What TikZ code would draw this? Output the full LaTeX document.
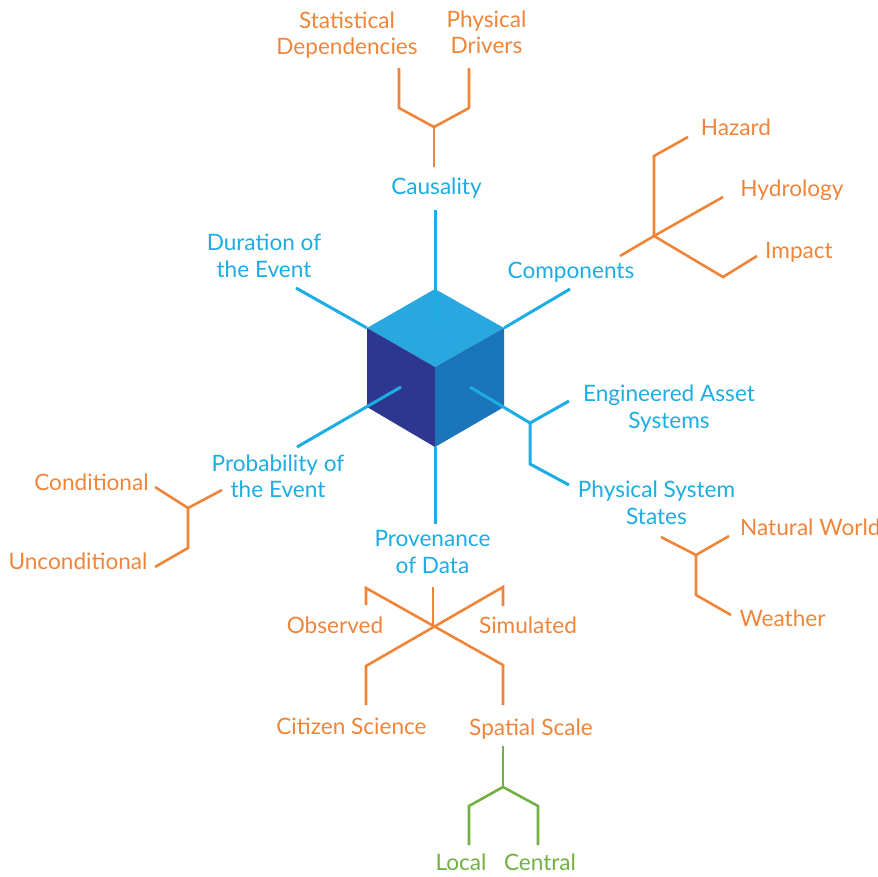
\documentclass[tikz,border=0pt]{standalone}
\usepackage{fontspec}
\setmainfont{Lato}
\usetikzlibrary{positioning}

\definecolor{cyanline}{RGB}{27,173,228}
\definecolor{orangeline}{RGB}{240,133,58}
\definecolor{greenline}{RGB}{114,176,67}
\definecolor{cubetopc}{RGB}{41,168,224}
\definecolor{cubeleftc}{RGB}{46,55,144}
\definecolor{cuberightc}{RGB}{27,117,187}

\begin{document}
\begin{tikzpicture}[x=1pt,y=-1pt,
    tag/.style={inner sep=0pt,align=center,font=\fontsize{22.6}{26.5}\selectfont},
    bluetag/.style={tag,text=cyanline},
    orangetag/.style={tag,text=orangeline},
    greentag/.style={tag,text=greenline},
    bluebar/.style={draw=cyanline,line width=3pt},
    orangebar/.style={draw=orangeline,line width=2.6pt},
    greenbar/.style={draw=greenline,line width=2.6pt}]
    \useasboundingbox (0,0) rectangle (878,877);

    % cube
    \coordinate (cubet) at (435,289);
    \coordinate (cubeul) at (367,328);
    \coordinate (cubeur) at (504,328);
    \coordinate (cubec) at (435,367);
    \coordinate (cubell) at (367,407);
    \coordinate (cubelr) at (504,407);
    \coordinate (cubeb) at (435,447);
    \fill[cubetopc] (cubet) -- (cubeur) -- (cubec) -- (cubeul) -- cycle;
    \fill[cubeleftc] (cubeul) -- (cubec) -- (cubeb) -- (cubell) -- cycle;
    \fill[cuberightc] (cubec) -- (cubeur) -- (cubelr) -- (cubeb) -- cycle;

    % blue labels
    \node[bluetag] (causality) at (436.5,188) {Causality};
    \node[bluetag] (duration) at (264,256) {Duration of\\the Event};
    \node[bluetag] (components) at (571,272) {Components};
    \node[bluetag] (probability) at (278,476.5) {Probability of\\the Event};
    \node[bluetag] (provenance) at (432.5,552) {Provenance\\of Data};
    \node[bluetag] (engineered) at (669,408.5) {Engineered Asset\\Systems};
    \node[bluetag] (physstates) at (656.5,503) {Physical System\\States};

    % blue bars
    \coordinate (causeend) at (435,210);
    \coordinate (topin) at (435,327);
    \coordinate (durend) at (296,288);
    \coordinate (compend) at (570,289);
    \coordinate (probend) at (297,447);
    \coordinate (leftin) at (401,387);
    \coordinate (rightin) at (470,387);
    \coordinate (engj) at (530,423);
    \coordinate (engend) at (569,401);
    \coordinate (physknee) at (530,464);
    \coordinate (physend) at (569,485);
    \coordinate (provend) at (435,524);
    \draw[bluebar] (causeend) -- (topin);
    \draw[bluebar] (durend) -- (cubeul);
    \draw[bluebar] (cubeur) -- (compend);
    \draw[bluebar] (probend) -- (leftin);
    \draw[bluebar] (rightin) -- (engj) -- (engend);
    \draw[bluebar] (engj) -- (physknee) -- (physend);
    \draw[bluebar] (cubeb) -- (provend);

    % causality fork
    \node[orangetag] (statdep) at (347,35) {Statistical\\Dependencies};
    \node[orangetag] (physdrv) at (486.5,32.5) {Physical\\Drivers};
    \coordinate (cstem) at (434,167);
    \coordinate (cj) at (434,127);
    \coordinate (cl) at (399,108);
    \coordinate (cltop) at (399,68);
    \coordinate (cr) at (469,108);
    \coordinate (crtop) at (469,68);
    \draw[orangebar] (cstem) -- (cj);
    \draw[orangebar] (cltop) -- (cl) -- (cj) -- (cr) -- (crtop);

    % components fork
    \node[orangetag] (hazard) at (736,127) {Hazard};
    \node[orangetag] (hydrology) at (792,190) {Hydrology};
    \node[orangetag] (impact) at (799,252) {Impact};
    \coordinate (kj) at (654,236);
    \coordinate (kin) at (620,256);
    \coordinate (khyd) at (723,197);
    \coordinate (kup) at (654,156);
    \coordinate (khaz) at (688,137);
    \coordinate (kdown) at (723,277);
    \coordinate (kimp) at (757,256);
    \draw[orangebar] (kin) -- (kj) -- (khyd);
    \draw[orangebar] (kj) -- (kup) -- (khaz);
    \draw[orangebar] (kj) -- (kdown) -- (kimp);

    % probability fork
    \node[orangetag] (conditional) at (91.5,482.5) {Conditional};
    \node[orangetag] (unconditional) at (78,561) {Unconditional};
    \coordinate (pj) at (188,508);
    \coordinate (pin) at (222,490);
    \coordinate (pcond) at (155,487);
    \coordinate (pknee) at (188,548);
    \coordinate (puncond) at (155,567);
    \draw[orangebar] (pcond) -- (pj) -- (pin);
    \draw[orangebar] (pj) -- (pknee) -- (puncond);

    % physical system states fork
    \node[orangetag,anchor=west] (natural) at (740,527.5) {Natural World};
    \node[orangetag] (weather) at (782.5,618) {Weather};
    \coordinate (sj) at (696,555);
    \coordinate (sin) at (661,537);
    \coordinate (snat) at (729,536);
    \coordinate (sknee) at (696,595);
    \coordinate (sweath) at (731,615);
    \draw[orangebar] (sin) -- (sj) -- (snat);
    \draw[orangebar] (sj) -- (sknee) -- (sweath);

    % provenance fork
    \node[orangetag] (observed) at (335,625.5) {Observed};
    \node[orangetag] (simulated) at (528,625.5) {Simulated};
    \node[orangetag] (citizen) at (351.5,726.5) {Citizen Science};
    \node[orangetag] (spatial) at (531,729) {Spatial Scale};
    \coordinate (vstem) at (433,587);
    \coordinate (vj) at (433,626);
    \coordinate (vtl) at (366,588);
    \coordinate (vtlend) at (366,605);
    \coordinate (vtr) at (503,587);
    \coordinate (vtrend) at (503,606);
    \coordinate (vbl) at (366,666);
    \coordinate (vblend) at (366,705);
    \coordinate (vbr) at (503,665);
    \coordinate (vbrend) at (503,705);
    \draw[orangebar] (vstem) -- (vj);
    \draw[orangebar] (vtlend) -- (vtl) -- (vbr) -- (vbrend);
    \draw[orangebar] (vtrend) -- (vtr) -- (vbl) -- (vblend);

    % spatial scale fork
    \node[greentag] (local) at (461,862.5) {Local};
    \node[greentag] (central) at (540,862.5) {Central};
    \coordinate (gstem) at (503,746);
    \coordinate (gj) at (503,787);
    \coordinate (gl) at (469,806);
    \coordinate (glend) at (469,845);
    \coordinate (gr) at (538,806);
    \coordinate (grend) at (538,845);
    \draw[greenbar] (gstem) -- (gj);
    \draw[greenbar] (glend) -- (gl) -- (gj) -- (gr) -- (grend);
\end{tikzpicture}
\end{document}
